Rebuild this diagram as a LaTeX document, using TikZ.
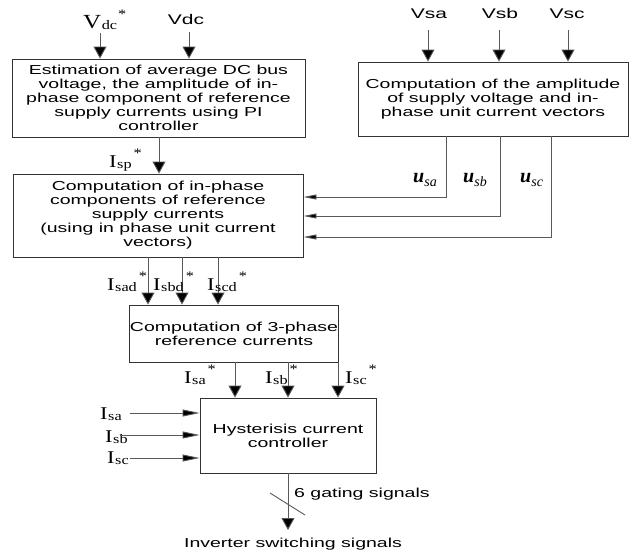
\documentclass[tikz,border=0pt]{standalone}
\usepackage{fontspec}
\setmainfont{Liberation Sans}
\newfontfamily\boxfont[FakeStretch=1.5]{Liberation Sans}
\newfontfamily\lblfont[FakeStretch=1.25]{Liberation Serif}
\newfontfamily\ulblfont{Liberation Serif}
\usetikzlibrary{arrows.meta}
% signal label: big letter, subscript, superscript star
\newcommand\siglbl[3]{{\lblfont\fontsize{18}{18}\selectfont #1}\kern0.5pt\raisebox{-1.5pt}{\lblfont\fontsize{13}{13}\selectfont #2}\kern2pt\raisebox{10pt}{\lblfont\fontsize{13}{13}\selectfont #3}}
\newcommand\ulbl[1]{{\ulblfont\fontsize{20}{20}\selectfont\bfseries\itshape u}\raisebox{-4pt}{\ulblfont\fontsize{14}{14}\selectfont\itshape #1}}
\begin{document}
\begin{tikzpicture}[x=1pt,y=-1pt,
  blk/.style={draw=black!80,line width=0.9pt,inner sep=0pt,align=center,
    font=\boxfont\fontsize{13}{14}\selectfont},
  conn/.style={draw=black!65,line width=0.9pt},
  varr/.style={conn,-{Triangle[length=12pt,width=13pt,fill=black]}},
  harr/.style={conn,-{Triangle[length=17pt,width=7pt,fill=black]}},
  sarr/.style={conn,-{Triangle[length=13pt,width=5pt,fill=black]}},
  slbl/.style={inner sep=0pt,anchor=base,font=\boxfont\fontsize{14}{14}\selectfont},
  ilbl/.style={inner sep=0pt,anchor=base west}]
\useasboundingbox (0,0) rectangle (630,550);

% boxes
\node[blk,minimum width=293pt,minimum height=78pt] (b1) at (158.5,98)
  {Estimation of average DC bus\\voltage, the amplitude of in-\\phase component of reference\\supply currents using PI\\controller};
\node[blk,minimum width=290pt,minimum height=83pt] (b2) at (158,215.5)
  {Computation of in-phase\\components of reference\\supply currents\\(using in phase unit current\\vectors)};
\node[blk,minimum width=206pt,minimum height=57pt] (b3) at (234,333.5)
  {Computation of 3-phase\\reference currents};
\node[blk,minimum width=176pt,minimum height=75pt] (b4) at (288,435.5)
  {Hysterisis current\\controller};
\node[blk,minimum width=270pt,minimum height=74pt] (b5) at (493,99)
  {Computation of the amplitude\\of supply voltage and in-\\phase unit current vectors};

% top inputs of b1
\node[ilbl] (lvdcs) at (83,28) {{\lblfont\fontsize{20}{20}\selectfont V}\kern0.5pt\raisebox{-1.5pt}{\lblfont\fontsize{13}{13}\selectfont dc}\kern1pt\raisebox{10pt}{\lblfont\fontsize{13}{13}\selectfont *}};
\node[slbl] (lvdc) at (186,24) {Vdc};
\coordinate (pvdcs) at (100,33);
\coordinate (pvdc) at (189,32);
\draw[varr] (pvdcs) -- (pvdcs |- b1.north);
\draw[varr] (pvdc) -- (pvdc |- b1.north);

% top inputs of b5
\node[slbl] (lvsa) at (429,18) {Vsa};
\node[slbl] (lvsb) at (500,18) {Vsb};
\node[slbl] (lvsc) at (567,18) {Vsc};
\coordinate (pvsa) at (428,30);
\coordinate (pvsb) at (499,30);
\coordinate (pvsc) at (568,30);
\draw[varr] (pvsa) -- (pvsa |- b5.north);
\draw[varr] (pvsb) -- (pvsb |- b5.north);
\draw[varr] (pvsc) -- (pvsc |- b5.north);

% b1 -> b2
\coordinate (xisp) at (159,0);
\draw[varr] (b1.south -| xisp) -- (b2.north -| xisp);
\node[ilbl] (lisp) at (109,167) {\siglbl{I}{sp}{*}};

% b5 -> b2 (unit vectors)
\coordinate (xua) at (446,0);
\coordinate (xub) at (500,0);
\coordinate (xuc) at (551,0);
\coordinate (yua) at (0,197);
\coordinate (yub) at (0,216);
\coordinate (yuc) at (0,237);
\coordinate (cua) at (xua |- yua);
\coordinate (cub) at (xub |- yub);
\coordinate (cuc) at (xuc |- yuc);
\draw[sarr] (b5.south -| xua) -- (cua) -- (cua -| b2.east);
\draw[sarr] (b5.south -| xub) -- (cub) -- (cub -| b2.east);
\draw[sarr] (b5.south -| xuc) -- (cuc) -- (cuc -| b2.east);
\node[ilbl] (lua) at (413,182) {\ulbl{sa}};
\node[ilbl] (lub) at (463,182) {\ulbl{sb}};
\node[ilbl] (luc) at (520,182) {\ulbl{sc}};

% b2 -> b3
\coordinate (xd1) at (148,0);
\coordinate (xd2) at (182,0);
\coordinate (xd3) at (218,0);
\draw[varr] (b2.south -| xd1) -- (b3.north -| xd1);
\draw[varr] (b2.south -| xd2) -- (b3.north -| xd2);
\draw[varr] (b2.south -| xd3) -- (b3.north -| xd3);
\node[ilbl] (lisad) at (107,290) {\siglbl{I}{sad}{*}};
\node[ilbl] (lisbd) at (153,290) {\siglbl{I}{sbd}{*}};
\node[ilbl] (liscd) at (207,290) {\siglbl{I}{scd}{*}};

% b3 -> b4
\coordinate (xr1) at (235,0);
\coordinate (xr2) at (288,0);
\coordinate (xr3) at (338,0);
\draw[varr] (b3.south -| xr1) -- (b4.north -| xr1);
\draw[varr] (b3.south -| xr2) -- (b4.north -| xr2);
\draw[varr] (b3.south -| xr3) -- (b4.north -| xr3);
\node[ilbl] (lisa) at (184,383) {\siglbl{I}{sa}{*}};
\node[ilbl] (lisb) at (265,383) {\siglbl{I}{sb}{*}};
\node[ilbl] (lisc) at (345,383) {\siglbl{I}{sc}{*}};

% measured currents into b4
\node[ilbl] (lma) at (100,419) {\siglbl{I}{sa}{}};
\node[ilbl] (lmb) at (105,442) {\siglbl{I}{sb}{}};
\node[ilbl] (lmc) at (107,463) {\siglbl{I}{sc}{}};
\coordinate (pma) at (130,413);
\coordinate (pmb) at (120,435);
\coordinate (pmc) at (130,458);
\draw[harr] (pma) -- (pma -| b4.west);
\draw[harr] (pmb) -- (pmb -| b4.west);
\draw[harr] (pmc) -- (pmc -| b4.west);

% output
\coordinate (pout) at (288,530);
\draw[varr] (b4.south -| pout) -- (pout);
\coordinate (sl1) at (270,493);
\coordinate (sl2) at (305,515);
\draw[conn] (sl1) -- (sl2);
\node[inner sep=0pt,anchor=base west,font=\boxfont\fontsize{13}{14}\selectfont] (lgate) at (294,497) {6 gating signals};
\node[inner sep=0pt,anchor=base,font=\boxfont\fontsize{13}{14}\selectfont] (linv) at (293,547) {Inverter switching signals};
\end{tikzpicture}
\end{document}
